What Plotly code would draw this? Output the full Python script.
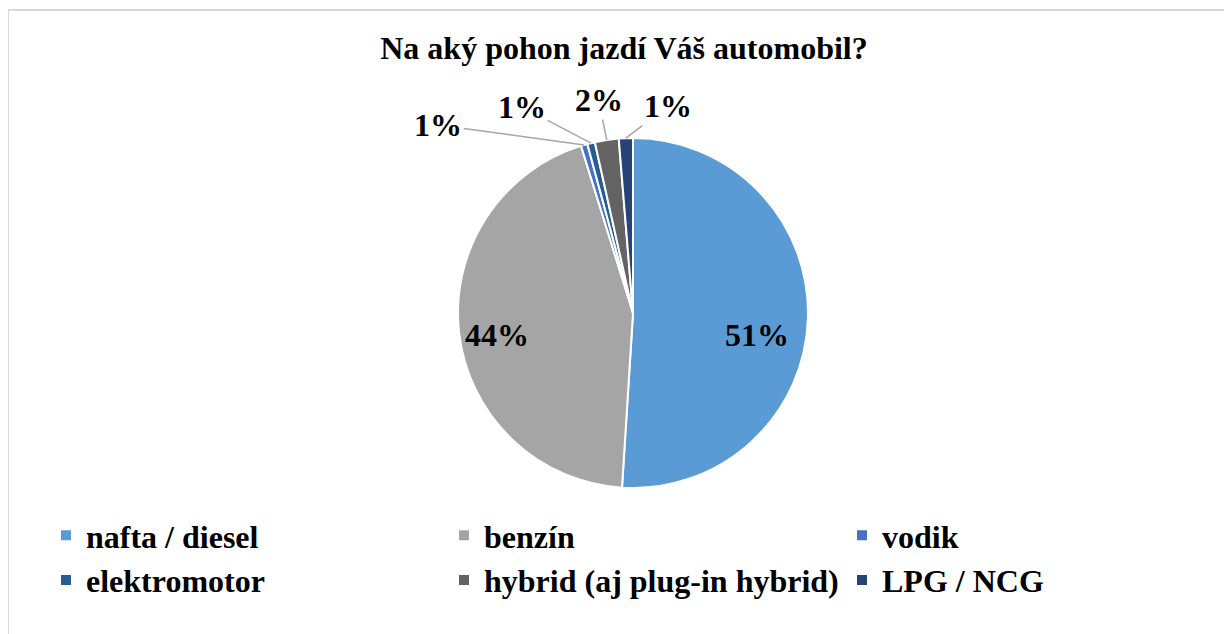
import math
import plotly.graph_objects as go

categories = ["nafta / diesel", "benzín", "vodik", "elektromotor", "hybrid (aj plug-in hybrid)", "LPG / NCG"]
values = [51.0, 44.2, 0.6, 0.7, 2.2, 1.3]
colors = ["#5B9BD5", "#A5A5A5", "#4472C4", "#255E91", "#636363", "#264478"]
title_text = "Na aký pohon jazdí Váš automobil?"

# label placement per slice: ("in", radius fraction, xshift, yshift) or ("out", ax, ay)
label_place = [("in", 0.71, 0, -18), ("in", 0.78, 0, -6),
               ("out", -146, -20), ("out", -69, -36), ("out", -8, -40), ("out", 42, -32)]

W, H = 1232, 634
FONT = "Liberation Serif"
FS = 32

# pie geometry in figure pixels
cx, cy, R = 625, 305, 175
RD = 175  # domain half-size
dom_x = [(cx - RD) / W, (cx + RD) / W]
dom_y = [(H - cy - RD) / H, (H - cy + RD) / H]

total = sum(values)
pct_labels = [f"{round(v / total * 100)}%" for v in values]

fig = go.Figure()
fig.add_trace(go.Pie(
    labels=categories,
    values=values,
    sort=False,
    direction="clockwise",
    rotation=0,
    marker=dict(colors=colors, line=dict(color="white", width=2)),
    textinfo="none",
    domain=dict(x=dom_x, y=dom_y),
    hoverinfo="label+percent",
))

label_font = dict(family=FONT, size=FS, color="black", weight="bold")
annotations = []
cum = 0.0
for v, lab, pl in zip(values, pct_labels, label_place):
    mid = (cum + v / 2) / total
    cum += v
    ang = math.radians(90 - 360 * mid)
    if pl[0] == "in":
        r = R * pl[1]
        px = cx + r * math.cos(ang)
        py = cy - r * math.sin(ang)
        annotations.append(dict(x=px / W, y=1 - py / H, xref="paper", yref="paper",
                                text=lab, showarrow=False, xshift=pl[2], yshift=pl[3],
                                font=label_font))
    else:
        px = cx + R * math.cos(ang)
        py = cy - R * math.sin(ang)
        annotations.append(dict(x=px / W, y=1 - py / H, xref="paper", yref="paper",
                                text=lab, showarrow=True, arrowhead=0, arrowwidth=1.5,
                                arrowcolor="#A6A6A6", ax=pl[1], ay=pl[2], standoff=0,
                                font=label_font))

fig.update_layout(
    width=W, height=H,
    margin=dict(l=0, r=0, t=0, b=0),
    paper_bgcolor="white",
    plot_bgcolor="white",
    title=dict(text=title_text, x=616 / W, xanchor="center", y=1 - 40 / H, yanchor="middle",
               font=dict(family=FONT, size=FS, color="black", weight="bold")),
    showlegend=True,
    legend=dict(orientation="h", x=50 / W, xanchor="left", y=1 - 500 / H, yanchor="top",
                entrywidth=353, traceorder="normal",
                font=dict(family=FONT, size=FS, color="black", weight="bold")),
    annotations=annotations,
    shapes=[dict(type="rect", xref="paper", yref="paper", x0=0, x1=1.05, y0=-0.05, y1=1 - 2 / H,
                 line=dict(color="#D9D9D9", width=2), fillcolor="rgba(0,0,0,0)", layer="below")],
)

fig.write_html("out.html")
